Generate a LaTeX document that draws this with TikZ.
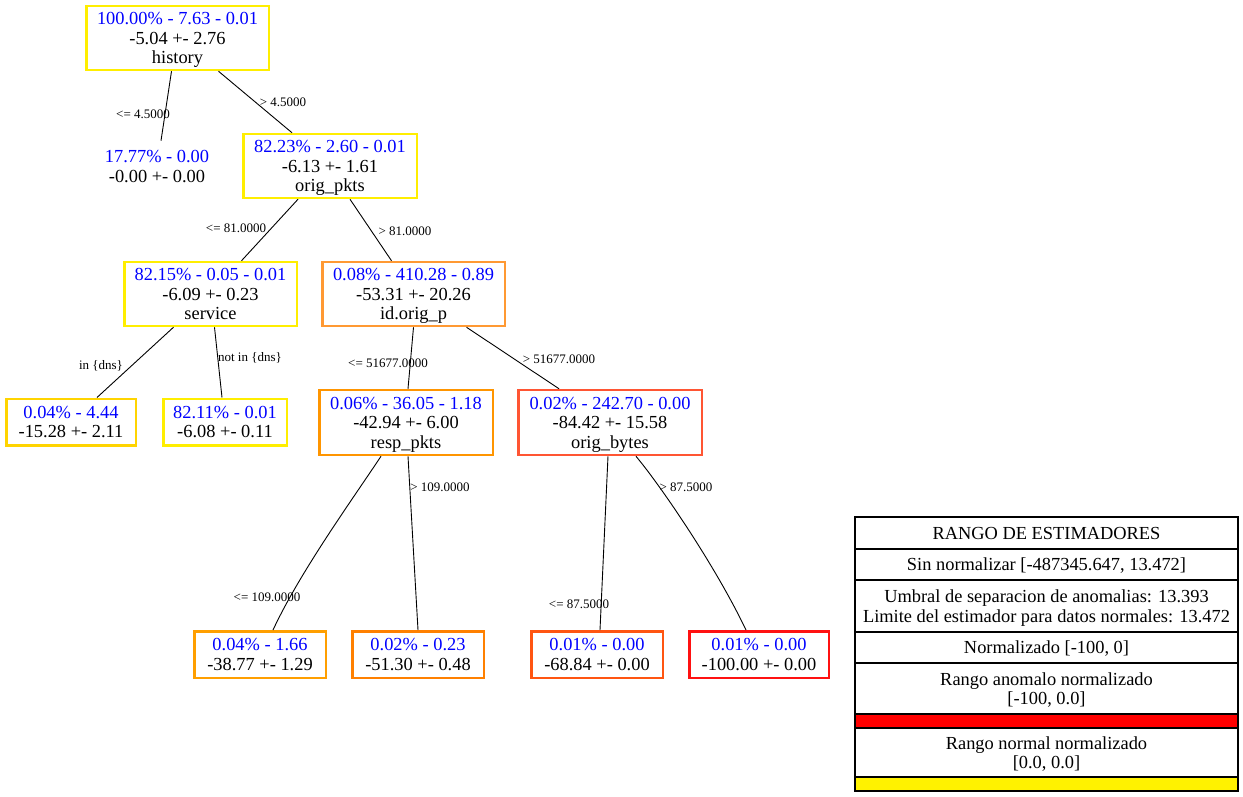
\documentclass[tikz,border=0pt]{standalone}
\usepackage{fontspec}
\setmainfont{Liberation Serif}
\definecolor{cyel}{HTML}{FFEE00}
\definecolor{cgold}{HTML}{FFD400}
\definecolor{corA}{HTML}{FF9933}
\definecolor{corB}{HTML}{FF9500}
\definecolor{corC}{HTML}{FF5533}
\definecolor{corD}{HTML}{FF9F00}
\definecolor{corE}{HTML}{FF8000}
\definecolor{corF}{HTML}{FF5511}
\definecolor{cred}{HTML}{FF1111}
\tikzset{
  tn/.style={draw, line width=2.5pt, align=center, inner sep=0pt, fill=white, text depth=0pt,
    font=\fontsize{18.4}{19.5}\selectfont},
  bigbox/.style={tn, minimum height=64pt},
  leafbox/.style={tn, minimum height=46.5pt},
  el/.style={font=\fontsize{13}{15}\selectfont, inner sep=0pt},
  ed/.style={line width=0.9pt, black},
  trow/.style={draw, line width=1.2pt, minimum width=383pt, inner sep=0pt, align=center, text depth=0pt,
    font=\fontsize{18.4}{19.5}\selectfont},
}
\begin{document}
\begin{tikzpicture}[x=1pt, y=-1pt]
\useasboundingbox (0,0) rectangle (1243,797);
% tree nodes
\node[bigbox, draw=cyel, minimum width=182.5pt] (root) at (177.5,38)
  {\textcolor{blue}{100.00\% - 7.63 - 0.01}\\-5.04 +- 2.76\\history};
\node[tn, draw=none, minimum width=134pt, minimum height=49pt] (l1) at (157,166.5)
  {\textcolor{blue}{17.77\% - 0.00}\\-0.00 +- 0.00};
\node[bigbox, draw=cyel, minimum width=173.5pt] (opk) at (330,166)
  {\textcolor{blue}{82.23\% - 2.60 - 0.01}\\-6.13 +- 1.61\\orig\_pkts};
\node[bigbox, draw=cyel, minimum width=172.5pt] (srv) at (210.5,294)
  {\textcolor{blue}{82.15\% - 0.05 - 0.01}\\-6.09 +- 0.23\\service};
\node[bigbox, draw=corA, minimum width=182.5pt] (iop) at (413.5,294)
  {\textcolor{blue}{0.08\% - 410.28 - 0.89}\\-53.31 +- 20.26\\id.orig\_p};
\node[leafbox, draw=cgold, minimum width=129.5pt] (ldns) at (71,422)
  {\textcolor{blue}{0.04\% - 4.44}\\-15.28 +- 2.11};
\node[leafbox, draw=cyel, minimum width=123.5pt] (lndns) at (225,422)
  {\textcolor{blue}{82.11\% - 0.01}\\-6.08 +- 0.11};
\node[bigbox, draw=corB, minimum width=173.5pt, minimum height=65pt] (rpk) at (406,422.5)
  {\textcolor{blue}{0.06\% - 36.05 - 1.18}\\-42.94 +- 6.00\\resp\_pkts};
\node[bigbox, draw=corC, minimum width=183.5pt, minimum height=65pt] (obt) at (610,422.5)
  {\textcolor{blue}{0.02\% - 242.70 - 0.00}\\-84.42 +- 15.58\\orig\_bytes};
\node[leafbox, draw=corD, minimum width=131.5pt] (la) at (260,654.5)
  {\textcolor{blue}{0.04\% - 1.66}\\-38.77 +- 1.29};
\node[leafbox, draw=corE, minimum width=131.5pt] (lb) at (418,654.5)
  {\textcolor{blue}{0.02\% - 0.23}\\-51.30 +- 0.48};
\node[leafbox, draw=corF, minimum width=131.5pt] (lc) at (597,654.5)
  {\textcolor{blue}{0.01\% - 0.00}\\-68.84 +- 0.00};
\node[leafbox, draw=cred, minimum width=139.5pt] (ld) at (759,654.5)
  {\textcolor{blue}{0.01\% - 0.00}\\-100.00 +- 0.00};
% edges
\draw[ed] ([xshift=-6pt]root.south) -- ([xshift=4pt]l1.north);
\draw[ed] ([xshift=41pt]root.south) -- ([xshift=-38pt]opk.north);
\draw[ed] ([xshift=-32pt]opk.south) -- ([xshift=31pt]srv.north);
\draw[ed] ([xshift=20pt]opk.south) -- ([xshift=-22pt]iop.north);
\draw[ed] ([xshift=-37pt]srv.south) -- ([xshift=26pt]ldns.north);
\draw[ed] ([xshift=4pt]srv.south) -- ([xshift=-3pt]lndns.north);
\draw[ed] ([xshift=0pt]iop.south) -- ([xshift=2pt]rpk.north);
\draw[ed] ([xshift=53pt]iop.south) -- ([xshift=-51pt]obt.north);
\draw[ed] ([xshift=-25pt]rpk.south) .. controls (352,500) and (300,572) .. ([xshift=13pt]la.north);
\draw[ed] ([xshift=2pt]rpk.south) -- ([xshift=0pt]lb.north);
\draw[ed] ([xshift=-2pt]obt.south) -- ([xshift=3pt]lc.north);
\draw[ed] ([xshift=26pt]obt.south) .. controls (660,485) and (715,565) .. ([xshift=-13pt]ld.north);
% edge labels
\node[el] (e1) at (143,114) {<= 4.5000};
\node[el] (e2) at (283,102) {> 4.5000};
\node[el] (e3) at (236,228) {<= 81.0000};
\node[el] (e4) at (405,231) {> 81.0000};
\node[el] (e5) at (101,366) {in \{dns\}};
\node[el] (e6) at (250,358) {not in \{dns\}};
\node[el] (e7) at (388,363) {<= 51677.0000};
\node[el] (e8) at (559,359) {> 51677.0000};
\node[el] (e9) at (267,597) {<= 109.0000};
\node[el] (e10) at (440,487) {> 109.0000};
\node[el] (e11) at (579,604) {<= 87.5000};
\node[el] (e12) at (686,487) {> 87.5000};
% legend table
\node[trow, minimum height=32pt] (t1) at (1046.5,533) {RANGO DE ESTIMADORES};
\node[trow, minimum height=31pt] (t2) at (1046.5,564.5) {Sin normalizar [-487345.647, 13.472]};
\node[trow, minimum height=52pt] (t3) at (1046.5,606) {Umbral de separacion de anomalias: 13.393\\Limite del estimador para datos normales: 13.472};
\node[trow, minimum height=31pt] (t4) at (1046.5,647.5) {Normalizado [-100, 0]};
\node[trow, minimum height=51pt, font=\fontsize{18.4}{18.5}\selectfont] (t5) at (1046.5,688.5) {Rango anomalo normalizado\\{}[-100, 0.0]};
\node[trow, minimum height=14pt, fill=red] (t6) at (1046.5,721) {};
\node[trow, minimum height=49pt, font=\fontsize{18.4}{18.5}\selectfont] (t7) at (1046.5,752.5) {Rango normal normalizado\\{}[0.0, 0.0]};
\node[trow, minimum height=14pt, fill=yellow] (t8) at (1046.5,784) {};
\end{tikzpicture}
\end{document}
